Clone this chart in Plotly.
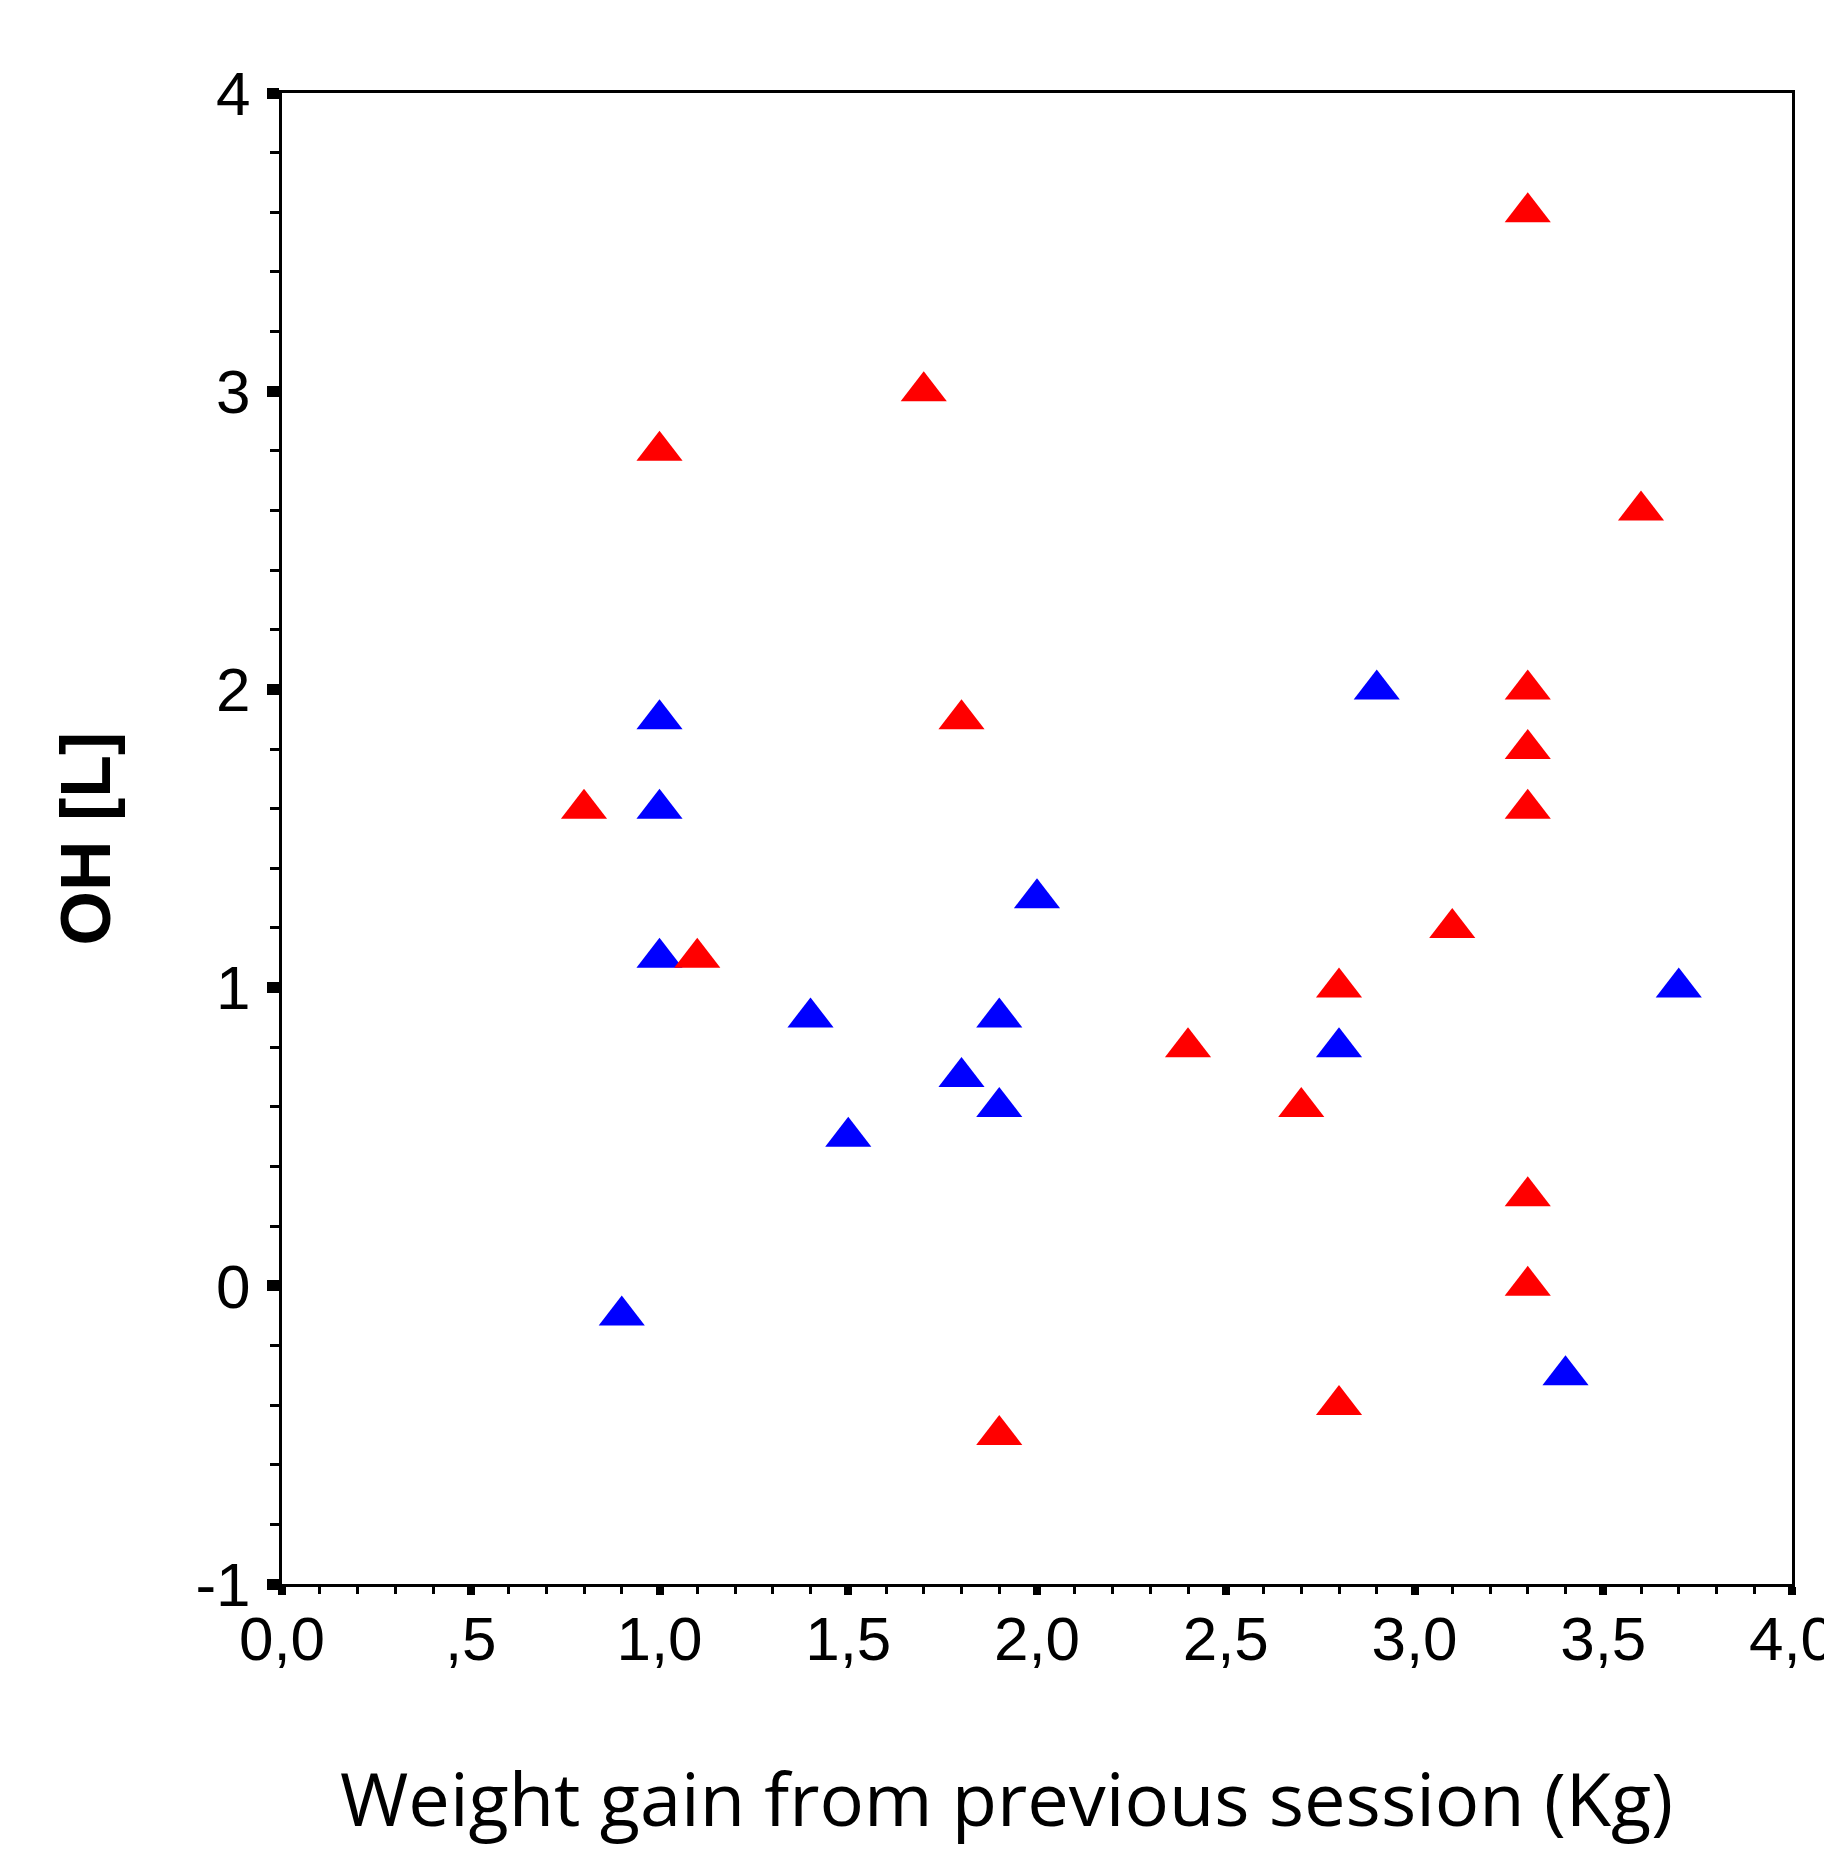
import plotly.graph_objects as go

# Data
red_x = [0.8, 1.0, 1.1, 1.7, 1.8, 1.9, 2.4, 2.7, 2.8, 2.8, 3.1, 3.3, 3.3, 3.3, 3.3, 3.3, 3.3, 3.6]
red_y = [1.6, 2.8, 1.1, 3.0, 1.9, -0.5, 0.8, 0.6, 1.0, -0.4, 1.2, 3.6, 2.0, 1.8, 1.6, 0.3, 0.0, 2.6]

blue_x = [0.9, 1.0, 1.0, 1.0, 1.4, 1.5, 1.8, 1.9, 1.9, 2.0, 2.8, 2.9, 3.4, 3.7]
blue_y = [-0.1, 1.9, 1.6, 1.1, 0.9, 0.5, 0.7, 0.9, 0.6, 1.3, 0.8, 2.0, -0.3, 1.0]

x_tickvals = [0, 0.5, 1.0, 1.5, 2.0, 2.5, 3.0, 3.5, 4.0]
x_ticktext = ["0,0", ",5", "1,0", "1,5", "2,0", "2,5", "3,0", "3,5", "4,0"]
y_tickvals = [-1, 0, 1, 2, 3, 4]
y_ticktext = ["-1", "0", "1", "2", "3", "4"]

x_title = "Weight gain from previous session (Kg)"
y_title = "OH [L]"

# page body has an 8px margin, so figure coords = page coords - 8
OFF = 8
W, H = 1832, 1850
L, T = 282 - OFF, 93 - OFF
plot_w = 1792 - 282
plot_h = 1584 - 93
R = W - L - plot_w
B = H - T - plot_h

fig = go.Figure()
fig.add_trace(go.Scatter(x=blue_x, y=blue_y, mode="markers",
                         marker=dict(symbol="triangle-up", size=40, color="#0000FF",
                                     line=dict(width=0)),
                         showlegend=False))
fig.add_trace(go.Scatter(x=red_x, y=red_y, mode="markers",
                         marker=dict(symbol="triangle-up", size=40, color="#FF0000",
                                     line=dict(width=0)),
                         showlegend=False))

tick_font = dict(family="Liberation Sans Narrow, Liberation Sans, Arial, sans-serif",
                 size=62, color="black")

fig.update_xaxes(range=[0, 4], tickmode="array", tickvals=x_tickvals, ticktext=x_ticktext,
                 ticks="outside", ticklen=8, tickwidth=8, tickcolor="black",
                 minor=dict(dtick=0.1, ticks="outside", ticklen=7, tickwidth=3, tickcolor="black"),
                 showline=True, linecolor="black", linewidth=3, mirror=True,
                 showgrid=False, zeroline=False, tickfont=tick_font, ticklabelstandoff=-9,
                 ticklabeloverflow="allow")
fig.update_yaxes(range=[-1, 4], tickmode="array", tickvals=y_tickvals, ticktext=y_ticktext,
                 ticks="outside", ticklen=12, tickwidth=11, tickcolor="black",
                 minor=dict(dtick=0.2, ticks="outside", ticklen=9, tickwidth=3, tickcolor="black"),
                 showline=True, linecolor="black", linewidth=3, mirror=True,
                 showgrid=False, zeroline=False, tickfont=tick_font, ticklabelstandoff=4,
                 ticklabeloverflow="allow")

fig.add_annotation(text=x_title, xref="paper", yref="paper",
                   x=(1006 - OFF - L) / plot_w, y=-(1797 - OFF - (T + plot_h)) / plot_h,
                   xanchor="center", yanchor="middle", showarrow=False,
                   font=dict(family="Open Sans, Noto Sans, sans-serif", size=74, color="black"))
fig.add_annotation(text="<b>" + y_title + "</b>", xref="paper", yref="paper",
                   x=(85 - OFF - L) / plot_w, y=0.5, textangle=-90,
                   xanchor="center", yanchor="middle", showarrow=False,
                   font=dict(family="Liberation Sans, Arial, sans-serif", size=70, color="black"))

fig.update_layout(width=W, height=H, margin=dict(l=L, r=R, t=T, b=B, autoexpand=False),
                  plot_bgcolor="white", paper_bgcolor="white")

fig.write_html("out.html")
